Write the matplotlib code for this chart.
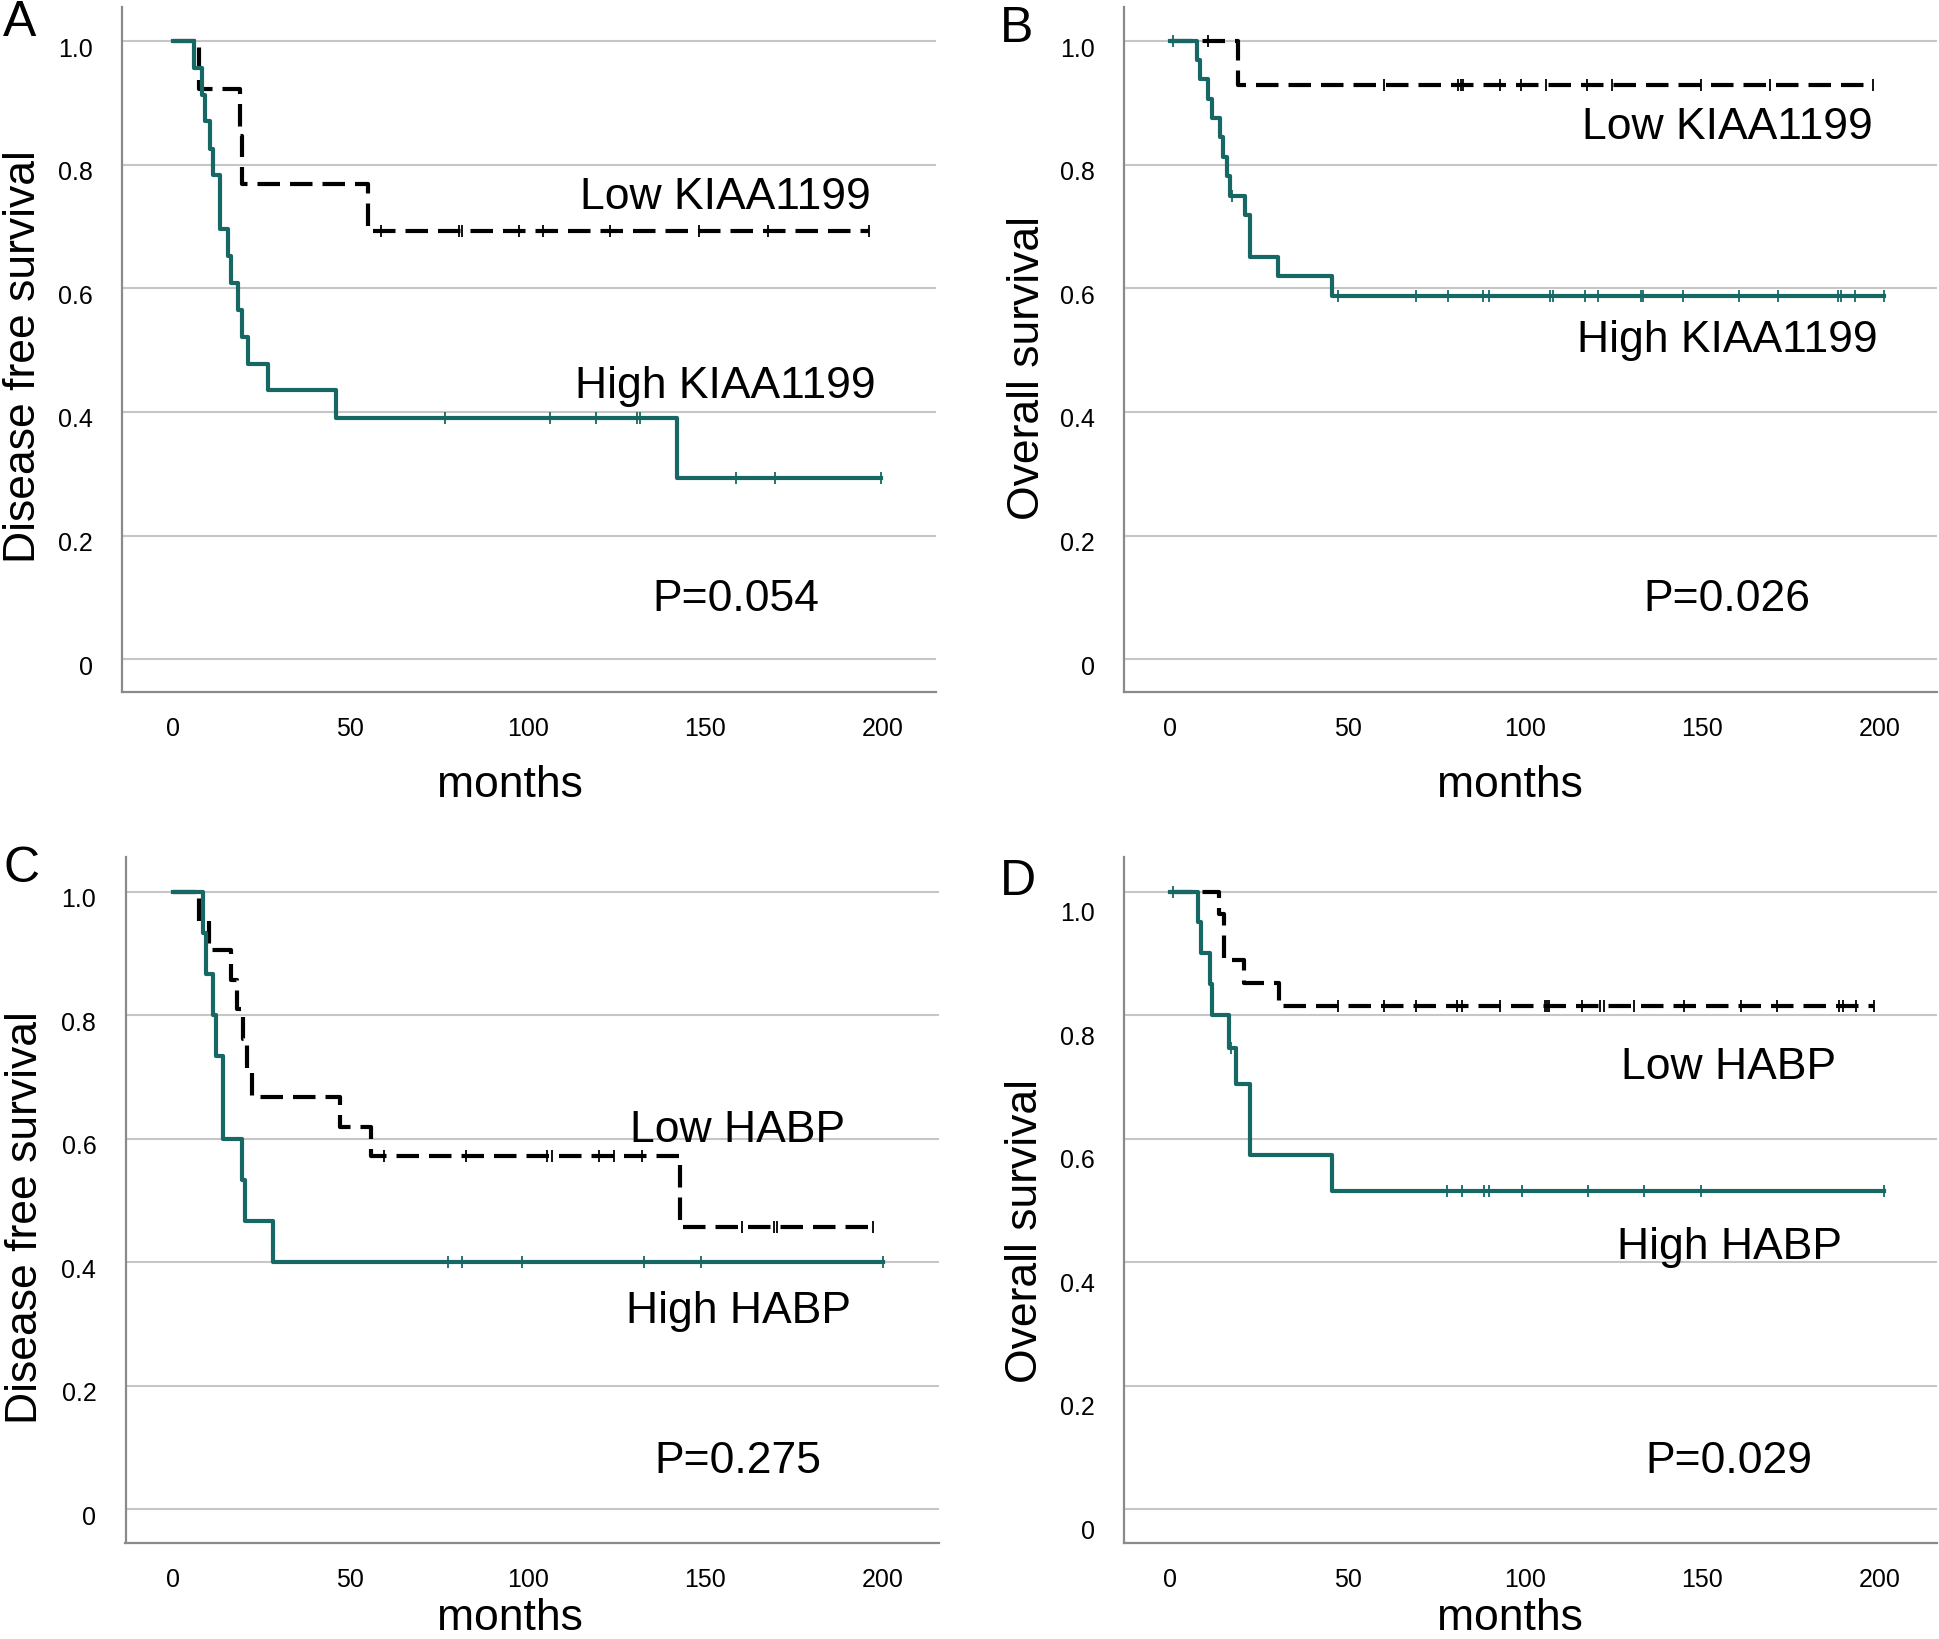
import numpy as np
import matplotlib
matplotlib.use('Agg')
import matplotlib.pyplot as plt
from matplotlib.transforms import ScaledTranslation

plt.rcParams['font.family'] = ['Liberation Sans', 'DejaVu Sans']

W, H = 1939, 1640
TEAL = '#176864'

# ---------------- data ----------------
panelLetters = ['A', 'B', 'C', 'D']
yLabels = ['Disease free survival', 'Overall survival', 'Disease free survival', 'Overall survival']
lowNames = ['Low KIAA1199', 'Low KIAA1199', 'Low HABP', 'Low HABP']
highNames = ['High KIAA1199', 'High KIAA1199', 'High HABP', 'High HABP']
pValues = ['P=0.054', 'P=0.026', 'P=0.275', 'P=0.029']

xTicks = [0, 50, 100, 150, 200]
xTickLabels = ['0', '50', '100', '150', '200']
yTicks = [0, 0.2, 0.4, 0.6, 0.8, 1.0]
yTickLabels = ['0', '0.2', '0.4', '0.6', '0.8', '1.0']

# A - disease free survival, KIAA1199
lowTimesA = [0, 7.5, 18.8, 19.4, 55.1]
lowSurvA = [1.0, 0.923, 0.846, 0.769, 0.692]
lowEndA = 196.2
lowCensA = [58.7, 80.7, 81.4, 97.4, 104.2, 123.2, 148.1, 167.6, 196.2]
highTimesA = [0, 6.1, 8.2, 9.1, 10.5, 11.3, 13.3, 15.5, 16.4, 18.5, 19.4, 21.3, 26.9, 45.9, 142.0]
highSurvA = [1.0, 0.957, 0.913, 0.870, 0.826, 0.783, 0.696, 0.652, 0.609, 0.565, 0.522, 0.478, 0.435, 0.391, 0.293]
highEndA = 199.6
highCensA = [76.7, 106.3, 119.3, 130.8, 131.6, 158.8, 169.6, 199.6]

# B - overall survival, KIAA1199
lowTimesB = [0, 19.0]
lowSurvB = [1.0, 0.929]
lowEndB = 198.2
lowCensB = [10.6, 60.4, 81.2, 81.9, 82.6, 92.9, 98.9, 106.0, 117.5, 124.5, 149.6, 169.0, 198.2]
highTimesB = [0, 7.5, 8.5, 10.8, 11.7, 14.1, 15.0, 16.0, 16.9, 21.1, 22.5, 30.5, 45.5]
highSurvB = [1.0, 0.969, 0.938, 0.906, 0.875, 0.844, 0.813, 0.781, 0.750, 0.719, 0.651, 0.620, 0.588]
highEndB = 201.3
highCensB = [0.8, 17.4, 47.4, 69.3, 78.2, 88.3, 89.8, 107.0, 108.0, 116.8, 120.6, 132.7, 133.3,
             144.6, 160.4, 171.3, 188.3, 189.1, 193.0, 201.3]

# C - disease free survival, HABP
lowTimesC = [0, 7.5, 10.3, 16.3, 18.2, 19.9, 20.8, 22.2, 47.1, 55.8, 142.9]
lowSurvC = [1.0, 0.952, 0.905, 0.857, 0.810, 0.762, 0.714, 0.667, 0.619, 0.571, 0.457]
lowEndC = 197.4
lowCensC = [59.6, 82.5, 105.5, 107.0, 120.0, 124.3, 132.2, 160.4, 169.3, 170.2, 197.4]
highTimesC = [0, 8.6, 9.3, 11.3, 12.2, 14.3, 19.4, 20.4, 28.2]
highSurvC = [1.0, 0.933, 0.867, 0.800, 0.733, 0.600, 0.533, 0.467, 0.400]
highEndC = 200.2
highCensC = [77.7, 81.6, 98.3, 132.9, 148.9, 200.2]

# D - overall survival, HABP
lowTimesD = [0, 13.9, 15.3, 20.7, 30.7]
lowSurvD = [1.0, 0.963, 0.889, 0.852, 0.815]
lowEndD = 198.4
lowCensD = [47.4, 60.4, 69.3, 80.8, 82.3, 92.9, 105.5, 106.2, 106.9, 116.0, 121.0, 122.3, 130.6,
            144.8, 160.8, 171.1, 188.4, 189.6, 193.2, 198.4]
highTimesD = [0, 7.9, 8.6, 11.2, 11.7, 16.7, 18.6, 22.5, 45.6]
highSurvD = [1.0, 0.95, 0.90, 0.85, 0.80, 0.747, 0.688, 0.573, 0.515]
highEndD = 201.3
highCensD = [0.8, 11.4, 17.2, 78.1, 82.3, 88.4, 89.8, 99.1, 117.8, 133.5, 149.6, 201.3]

curves = [
    (lowTimesA, lowSurvA, lowEndA, lowCensA, highTimesA, highSurvA, highEndA, highCensA),
    (lowTimesB, lowSurvB, lowEndB, lowCensB, highTimesB, highSurvB, highEndB, highCensB),
    (lowTimesC, lowSurvC, lowEndC, lowCensC, highTimesC, highSurvC, highEndC, highCensC),
    (lowTimesD, lowSurvD, lowEndD, lowCensD, highTimesD, highSurvD, highEndD, highCensD),
]

# ---------------- layout (pixels in the 1939x1640 picture) ----------------
# axes box: left, top, right, bottom
axBoxes = [(122, 8, 936, 693), (1124, 8, 1937, 693), (125.5, 858, 939, 1544), (1124, 858, 1937, 1544)]
xLims = [(-14.3, 215.0), (-13.0, 216.1), (-13.3, 215.9), (-13.0, 216.1)]
yLims = [(-0.053, 1.055), (-0.053, 1.055), (-0.055, 1.056), (-0.055, 1.056)]
yTickShift = [5, 5, 5, 19]        # tick labels sit a little below their grid lines
letterPos = [(3, 0), (1000, 6), (3, 846), (1000, 859)]
ylabelPos = [(35, 357), (1039, 368), (37, 1218), (1037, 1231)]
monthsPos = [(510, 797), (1510, 797), (510, 1630), (1510, 1630)]
# right edge (months) and baseline (survival) of the in-plot labels
lowTextPos = [(196.7, 0.730), (198.0, 0.843), (189.4, 0.596), (187.6, 0.698)]
highTextPos = [(198.0, 0.424), (199.4, 0.498), (191.0, 0.303), (189.3, 0.407)]
pTextPos = [(182.0, 0.079), (180.3, 0.079), (182.9, 0.060), (181.0, 0.060)]


def survAt(times, surv, t):
    idx = np.searchsorted(times, t, side='right') - 1
    return np.asarray(surv)[idx]


def drawCurve(ax, times, surv, end, cens, color, dashed):
    t = list(times) + [end]
    s = list(surv) + [surv[-1]]
    line, = ax.step(t, s, where='post', color=color, lw=3.0, zorder=3 if dashed else 4)
    if dashed:
        line.set_dashes((5.4, 2.4))
    ax.plot(cens, survAt(times, surv, cens), ls='none', marker='|', ms=9,
            mew=1.3, color=color, zorder=5)


fig = plt.figure(figsize=(W / 100, H / 100), dpi=100)

for i in range(4):
    l, t, r, b = axBoxes[i]
    ax = fig.add_axes([l / W, 1 - b / H, (r - l) / W, (b - t) / H])
    ax.set_xlim(*xLims[i])
    ax.set_ylim(*yLims[i])

    for side in ['top', 'right']:
        ax.spines[side].set_visible(False)
    for side in ['left', 'bottom']:
        ax.spines[side].set_color('#8a8a8a')
        ax.spines[side].set_linewidth(1.6)

    ax.set_yticks(yTicks)
    ax.set_yticklabels(yTickLabels)
    ax.set_xticks(xTicks)
    ax.set_xticklabels(xTickLabels)
    ax.tick_params(axis='both', length=0, labelsize=18, colors='black')
    ax.tick_params(axis='y', pad=21)
    ax.tick_params(axis='x', pad=17)
    for lab in ax.get_yticklabels():
        lab.set_transform(lab.get_transform() + ScaledTranslation(0, -yTickShift[i] / 100, fig.dpi_scale_trans))

    ax.grid(axis='y', color='#c6c6c6', lw=1.5)
    ax.set_axisbelow(True)

    lowT, lowS, lowE, lowC, highT, highS, highE, highC = curves[i]
    drawCurve(ax, lowT, lowS, lowE, lowC, 'black', True)
    drawCurve(ax, highT, highS, highE, highC, TEAL, False)

    ax.text(*lowTextPos[i], lowNames[i], fontsize=32, ha='right', va='baseline')
    ax.text(*highTextPos[i], highNames[i], fontsize=32, ha='right', va='baseline')
    ax.text(*pTextPos[i], pValues[i], fontsize=32, ha='right', va='baseline')

    # figure-level labels
    fig.text(letterPos[i][0] / W, 1 - letterPos[i][1] / H, panelLetters[i],
             fontsize=36, ha='left', va='top')
    fig.text(ylabelPos[i][0] / W, 1 - ylabelPos[i][1] / H, yLabels[i], fontsize=32,
             rotation=90, rotation_mode='anchor', ha='center', va='baseline')
    fig.text(monthsPos[i][0] / W, 1 - monthsPos[i][1] / H, 'months', fontsize=32,
             ha='center', va='baseline')

fig.savefig('out.png', dpi=100)
